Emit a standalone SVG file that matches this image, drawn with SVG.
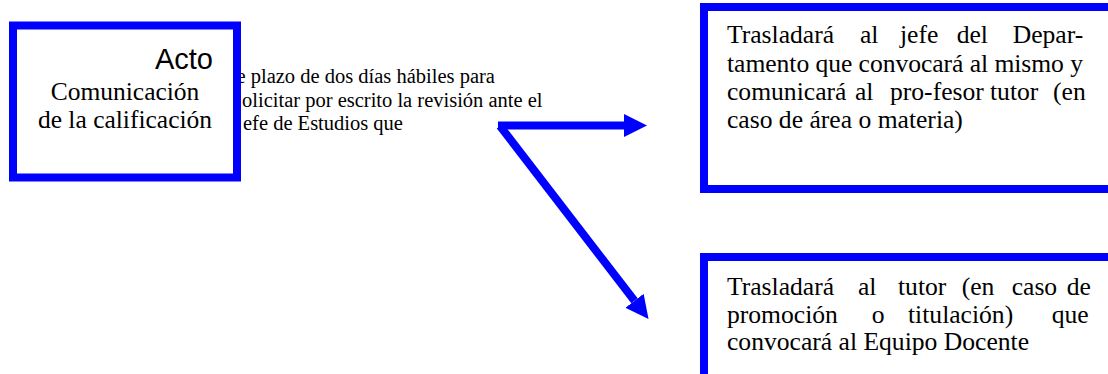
<svg xmlns="http://www.w3.org/2000/svg" width="1108" height="374" viewBox="0 0 1108 374">
<style>
.box{fill:#fff;stroke:#0000ff;stroke-width:8}
.serif{font-family:"Liberation Serif","Times New Roman",serif;fill:#000}
.sans{font-family:"Liberation Sans",Arial,sans-serif;fill:#000}
.conn{stroke:#0000ff;stroke-width:8;fill:none}
</style>
<defs>
<marker id="ah" markerUnits="userSpaceOnUse" markerWidth="24" markerHeight="24" refX="0" refY="11.5" orient="auto" viewBox="0 0 24 24">
<path d="M0,0 L23,11.5 L0,23 Z" fill="#0000ff"/>
</marker>
</defs>
<text class="serif" font-size="20.5">
<tspan x="236.5" y="83">e plazo de dos días hábiles para</tspan>
<tspan x="242" y="107">olicitar por escrito la revisión ante el</tspan>
<tspan x="243" y="130">efe de Estudios que</tspan>
</text>
<g id="acto">
<rect class="box" x="13" y="25.5" width="224" height="152"/>
<text class="sans" font-size="29" x="213" y="69" text-anchor="end">Acto</text>
<text class="serif" font-size="25.5" x="125" y="100" text-anchor="middle">Comunicación</text>
<text class="serif" font-size="25.5" x="125" y="128" text-anchor="middle">de la calificación</text>
</g>
<g id="connectors">
<line class="conn" x1="498" y1="125.5" x2="624" y2="125.5" marker-end="url(#ah)"/>
<line class="conn" x1="500" y1="126" x2="634.5" y2="300.8" marker-end="url(#ah)"/>
</g>
<g id="departamento">
<rect class="box" x="704" y="7" width="420" height="182"/>
<text class="serif" font-size="25.6">
<tspan x="727" y="43.3">Trasladará</tspan><tspan x="860" y="43.3">al</tspan><tspan x="900" y="43.3">jefe</tspan><tspan x="956.7" y="43.3">del</tspan><tspan x="1012.7" y="43.3">Depar-</tspan>
</text>
<text class="serif" font-size="25.6" x="727" y="71.7" textLength="356" lengthAdjust="spacing">tamento que convocará al mismo y</text>
<text class="serif" font-size="25.6">
<tspan x="727" y="100">comunicará</tspan><tspan x="855" y="100">al</tspan><tspan x="890" y="100">pro-fesor</tspan><tspan x="990" y="100">tutor</tspan><tspan x="1053" y="100">(en</tspan>
</text>
<text class="serif" font-size="25.6" x="727" y="128.3">caso de área o materia)</text>
</g>
<g id="tutor">
<rect class="box" x="704" y="257" width="420" height="121"/>
<text class="serif" font-size="25.6">
<tspan x="727" y="295">Trasladará</tspan><tspan x="858" y="295">al</tspan><tspan x="898" y="295">tutor</tspan><tspan x="961.7" y="295">(en</tspan><tspan x="1011.7" y="295">caso</tspan><tspan x="1066.7" y="295">de</tspan>
</text>
<text class="serif" font-size="25.6">
<tspan x="727" y="323.3">promoción</tspan><tspan x="871.7" y="323.3">o</tspan><tspan x="908" y="323.3">titulación)</tspan><tspan x="1051.7" y="323.3">que</tspan>
</text>
<text class="serif" font-size="25.6" x="727" y="350">convocará al Equipo Docente</text>
</g>
</svg>
